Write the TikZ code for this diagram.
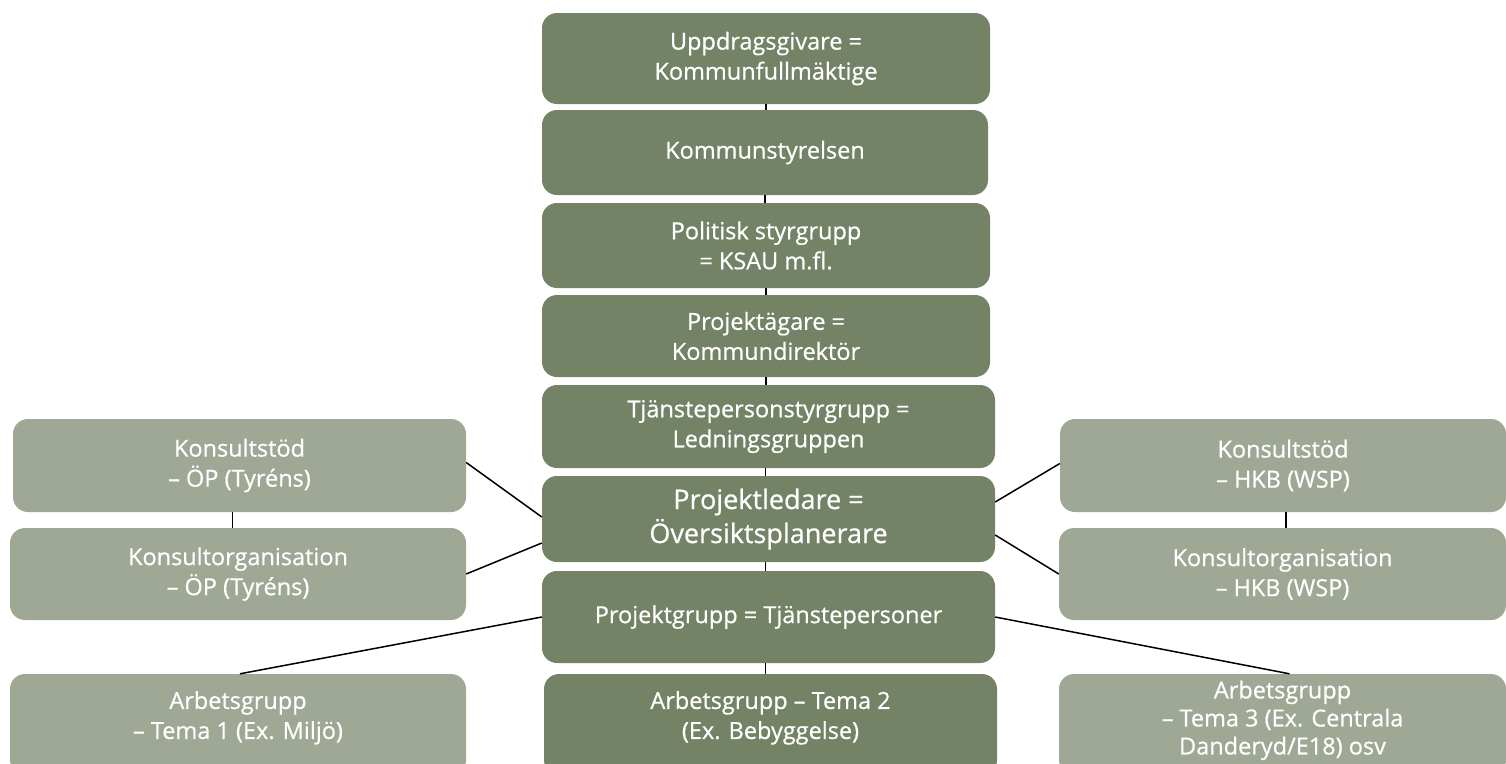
\documentclass[tikz,border=0pt]{standalone}
\usepackage{fontspec}
\setmainfont{Open Sans}[FakeBold=0.6]
\definecolor{darkbox}{RGB}{116,130,102}
\definecolor{lightbox}{RGB}{158,168,148}
\begin{document}
\begin{tikzpicture}[x=1pt,y=-1pt,
  base/.style={rounded corners=15pt, text=white, align=center, inner sep=0pt,
    font=\fontsize{23.5}{30}\selectfont},
  darkbox/.style={base, fill=darkbox},
  lightbox/.style={base, fill=lightbox},
  conn/.style={draw=black, line width=1.5pt}]
\useasboundingbox (0,0) rectangle (1506,763);
\clip (0,0) rectangle (1506,763);
% central column
\node[darkbox, minimum width=448pt, minimum height=91pt] (b1) at (766,58.5) {Uppdragsgivare =\\Kommunfullmäktige};
\node[darkbox, minimum width=446pt, minimum height=85pt] (b2) at (765,152.5) {Kommunstyrelsen};
\node[darkbox, minimum width=448pt, minimum height=85pt] (b3) at (766,245.5) {Politisk styrgrupp\\ = KSAU m.fl.};
\node[darkbox, minimum width=448pt, minimum height=82pt] (b4) at (766,336) {Projektägare =\\Kommundirektör};
\node[darkbox, minimum width=453pt, minimum height=83pt] (b5) at (768.5,426.5) {Tjänstepersonstyrgrupp =\\Ledningsgruppen};
\node[darkbox, minimum width=453pt, minimum height=86pt, font=\fontsize{27}{34}\selectfont] (b6) at (768.5,519) {Projektledare =\\Översiktsplanerare};
\node[darkbox, minimum width=453pt, minimum height=92pt] (b7) at (768.5,617) {Projektgrupp = Tjänstepersoner};
\node[darkbox, minimum width=453pt, minimum height=101pt] (b8) at (770.5,724.5) {Arbetsgrupp – Tema 2\\(Ex. Bebyggelse)\rule[-19pt]{0pt}{0pt}};
% left column
\node[lightbox, minimum width=453pt, minimum height=93pt] (l1) at (239.5,465.5) {Konsultstöd\\– ÖP (Tyréns)};
\node[lightbox, minimum width=456pt, minimum height=92pt] (l2) at (238,574) {Konsultorganisation\\– ÖP (Tyréns)};
\node[lightbox, minimum width=456pt, minimum height=101pt] (l3) at (238,724.5) {Arbetsgrupp\\– Tema 1 (Ex. Miljö)\rule[-19pt]{0pt}{0pt}};
% right column
\node[lightbox, minimum width=446pt, minimum height=93pt] (r1) at (1283,465.5) {Konsultstöd\\– HKB (WSP)};
\node[lightbox, minimum width=447pt, minimum height=92pt] (r2) at (1282.5,574) {Konsultorganisation\\– HKB (WSP)};
\node[lightbox, minimum width=447pt, minimum height=101pt, font=\fontsize{23.5}{28}\selectfont] (r3) at (1282.5,724.5) {Arbetsgrupp\\– Tema 3 (Ex. Centrala\\Danderyd/E18) osv\rule[-14pt]{0pt}{0pt}};
% connectors
\draw[conn] (b1.south) -- (b1.south |- b2.north);
\draw[conn] (b2.south) -- (b2.south |- b3.north);
\draw[conn] (b3.south) -- (b3.south |- b4.north);
\draw[conn] (b4.south) -- (b4.south |- b5.north);
\draw[conn] ([xshift=-3pt]b5.south) -- ([xshift=-3pt]b5.south |- b6.north);
\draw[conn] ([xshift=-3pt]b6.south) -- ([xshift=-3pt]b6.south |- b7.north);
\draw[conn] ([xshift=-3pt]b7.south) -- ([xshift=-3pt]b7.south |- b8.north);
\draw[conn] ([xshift=-7pt]l1.south) -- ([xshift=-7pt]l1.south |- l2.north);
\draw[conn] ([xshift=3pt]r1.south) -- ([xshift=3pt]r1.south |- r2.north);
\draw[conn] ([yshift=3pt]l1.east) -- ([yshift=2pt]b6.west);
\draw[conn] (l2.east) -- ([yshift=-24pt]b6.west);
\draw[conn] ([yshift=17pt]b6.east) -- ([yshift=2pt]r1.west);
\draw[conn] ([yshift=-16pt]b6.east) -- (r2.west);
\draw[conn] (b7.west) -- ([xshift=2pt]l3.north);
\draw[conn] (b7.east) -- ([xshift=7pt]r3.north);
\end{tikzpicture}
\end{document}
